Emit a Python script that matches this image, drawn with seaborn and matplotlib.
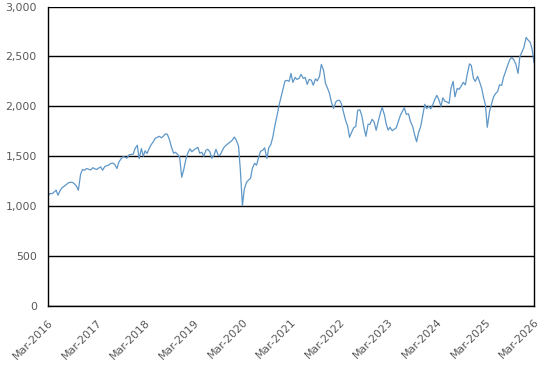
import numpy as np
import pandas as pd
import matplotlib
matplotlib.use("Agg")
import matplotlib.pyplot as plt
import matplotlib.dates as mdates
from matplotlib.ticker import FuncFormatter
import seaborn as sns

# semi-monthly observations, Mar-2016 .. Mar-2026
start_date = "2016-03-01"
values = [
    # 2016-17
    1100, 1127, 1125, 1140, 1160, 1110, 1160, 1185, 1200, 1215, 1233, 1240,
    1238, 1225, 1200, 1160, 1320, 1367, 1360, 1377, 1370, 1362, 1385, 1375,
    # 2017-18
    1367, 1380, 1393, 1360, 1395, 1405, 1412, 1428, 1432, 1418, 1377, 1440,
    1475, 1495, 1490, 1480, 1515, 1518, 1520, 1577, 1610, 1477, 1577, 1500,
    # 2018-19
    1555, 1527, 1580, 1615, 1645, 1680, 1690, 1700, 1685, 1700, 1725, 1720,
    1660, 1590, 1530, 1540, 1515, 1495, 1290, 1360, 1470, 1530, 1575, 1545,
    # 2019-20
    1562, 1575, 1590, 1530, 1540, 1500, 1560, 1570, 1543, 1480, 1510, 1570,
    1510, 1510, 1555, 1590, 1612, 1627, 1645, 1660, 1693, 1660, 1600, 1350,
    # 2020-21
    1005, 1170, 1240, 1260, 1280, 1380, 1430, 1410, 1490, 1550, 1560, 1585,
    1477, 1585, 1620, 1690, 1815, 1900, 2010, 2085, 2180, 2255, 2260, 2250,
    # 2021-22
    2330, 2240, 2290, 2270, 2280, 2320, 2280, 2290, 2220, 2270, 2262, 2212,
    2275, 2255, 2300, 2420, 2360, 2230, 2180, 2130, 2030, 1980, 2045, 2060,
    # 2022-23
    2060, 2025, 1935, 1860, 1800, 1690, 1745, 1785, 1800, 1960, 1965, 1905,
    1780, 1700, 1820, 1820, 1870, 1845, 1760, 1840, 1930, 1990, 1915, 1820,
    # 2023-24
    1762, 1790, 1755, 1770, 1785, 1840, 1910, 1948, 1985, 1920, 1925, 1850,
    1800, 1720, 1645, 1735, 1800, 1900, 2020, 1977, 2000, 1975, 2020, 2070,
    # 2024-25
    2110, 2070, 2000, 2085, 2050, 2045, 2030, 2180, 2250, 2095, 2180, 2170,
    2205, 2240, 2215, 2320, 2425, 2410, 2280, 2250, 2300, 2250, 2180, 2090,
    # 2025-26
    2015, 1790, 1950, 2020, 2095, 2125, 2150, 2215, 2210, 2290, 2355, 2410,
    2470, 2490, 2465, 2425, 2330, 2500, 2545, 2590, 2690, 2665, 2640, 2570,
    2440,
]
y_ticks = [0, 500, 1000, 1500, 2000, 2500, 3000]
x_tick_years = list(range(2016, 2027))

dates = pd.date_range(start_date, periods=len(values), freq="SMS")
df = pd.DataFrame({"date": dates, "value": values})

sns.set_style("white")
plt.rcParams["font.family"] = ["DejaVu Sans"]

fig = plt.figure(figsize=(5.45, 3.68), dpi=100)
ax = fig.add_axes([48 / 545, 1 - 306 / 368, (534 - 48) / 545, (306 - 6.5) / 368])

sns.lineplot(data=df, x="date", y="value", ax=ax, color="#5e97c8", linewidth=0.9)

ax.set_xlim(pd.Timestamp("2016-03-01"), pd.Timestamp("2026-03-01"))
ax.set_ylim(0, 3000)
ax.set_yticks(y_ticks)
ax.yaxis.set_major_formatter(FuncFormatter(lambda v, p: f"{int(v):,}"))
ax.set_xticks([pd.Timestamp(f"{y}-03-01") for y in x_tick_years])
ax.xaxis.set_major_formatter(mdates.DateFormatter("%b-%Y"))

ax.grid(axis="y", color="black", linewidth=1.0)
ax.grid(axis="x", visible=False)
ax.set_axisbelow(True)
ax.set_xlabel("")
ax.set_ylabel("")

for side in ["left", "bottom", "right"]:
    ax.spines[side].set_visible(True)
    ax.spines[side].set_color("black")
    ax.spines[side].set_linewidth(1.0)
ax.spines["top"].set_visible(False)

ax.tick_params(axis="both", which="major", direction="out", length=4, width=1,
               color="black", labelcolor="#595959", labelsize=7.9)
ax.tick_params(axis="y", pad=4)
ax.tick_params(axis="x", pad=4)
ax.tick_params(axis="y", which="both", right=False)
for lbl in ax.get_xticklabels():
    lbl.set_rotation(45)
    lbl.set_ha("right")
    lbl.set_rotation_mode("anchor")

fig.savefig("out.png", dpi=100)
